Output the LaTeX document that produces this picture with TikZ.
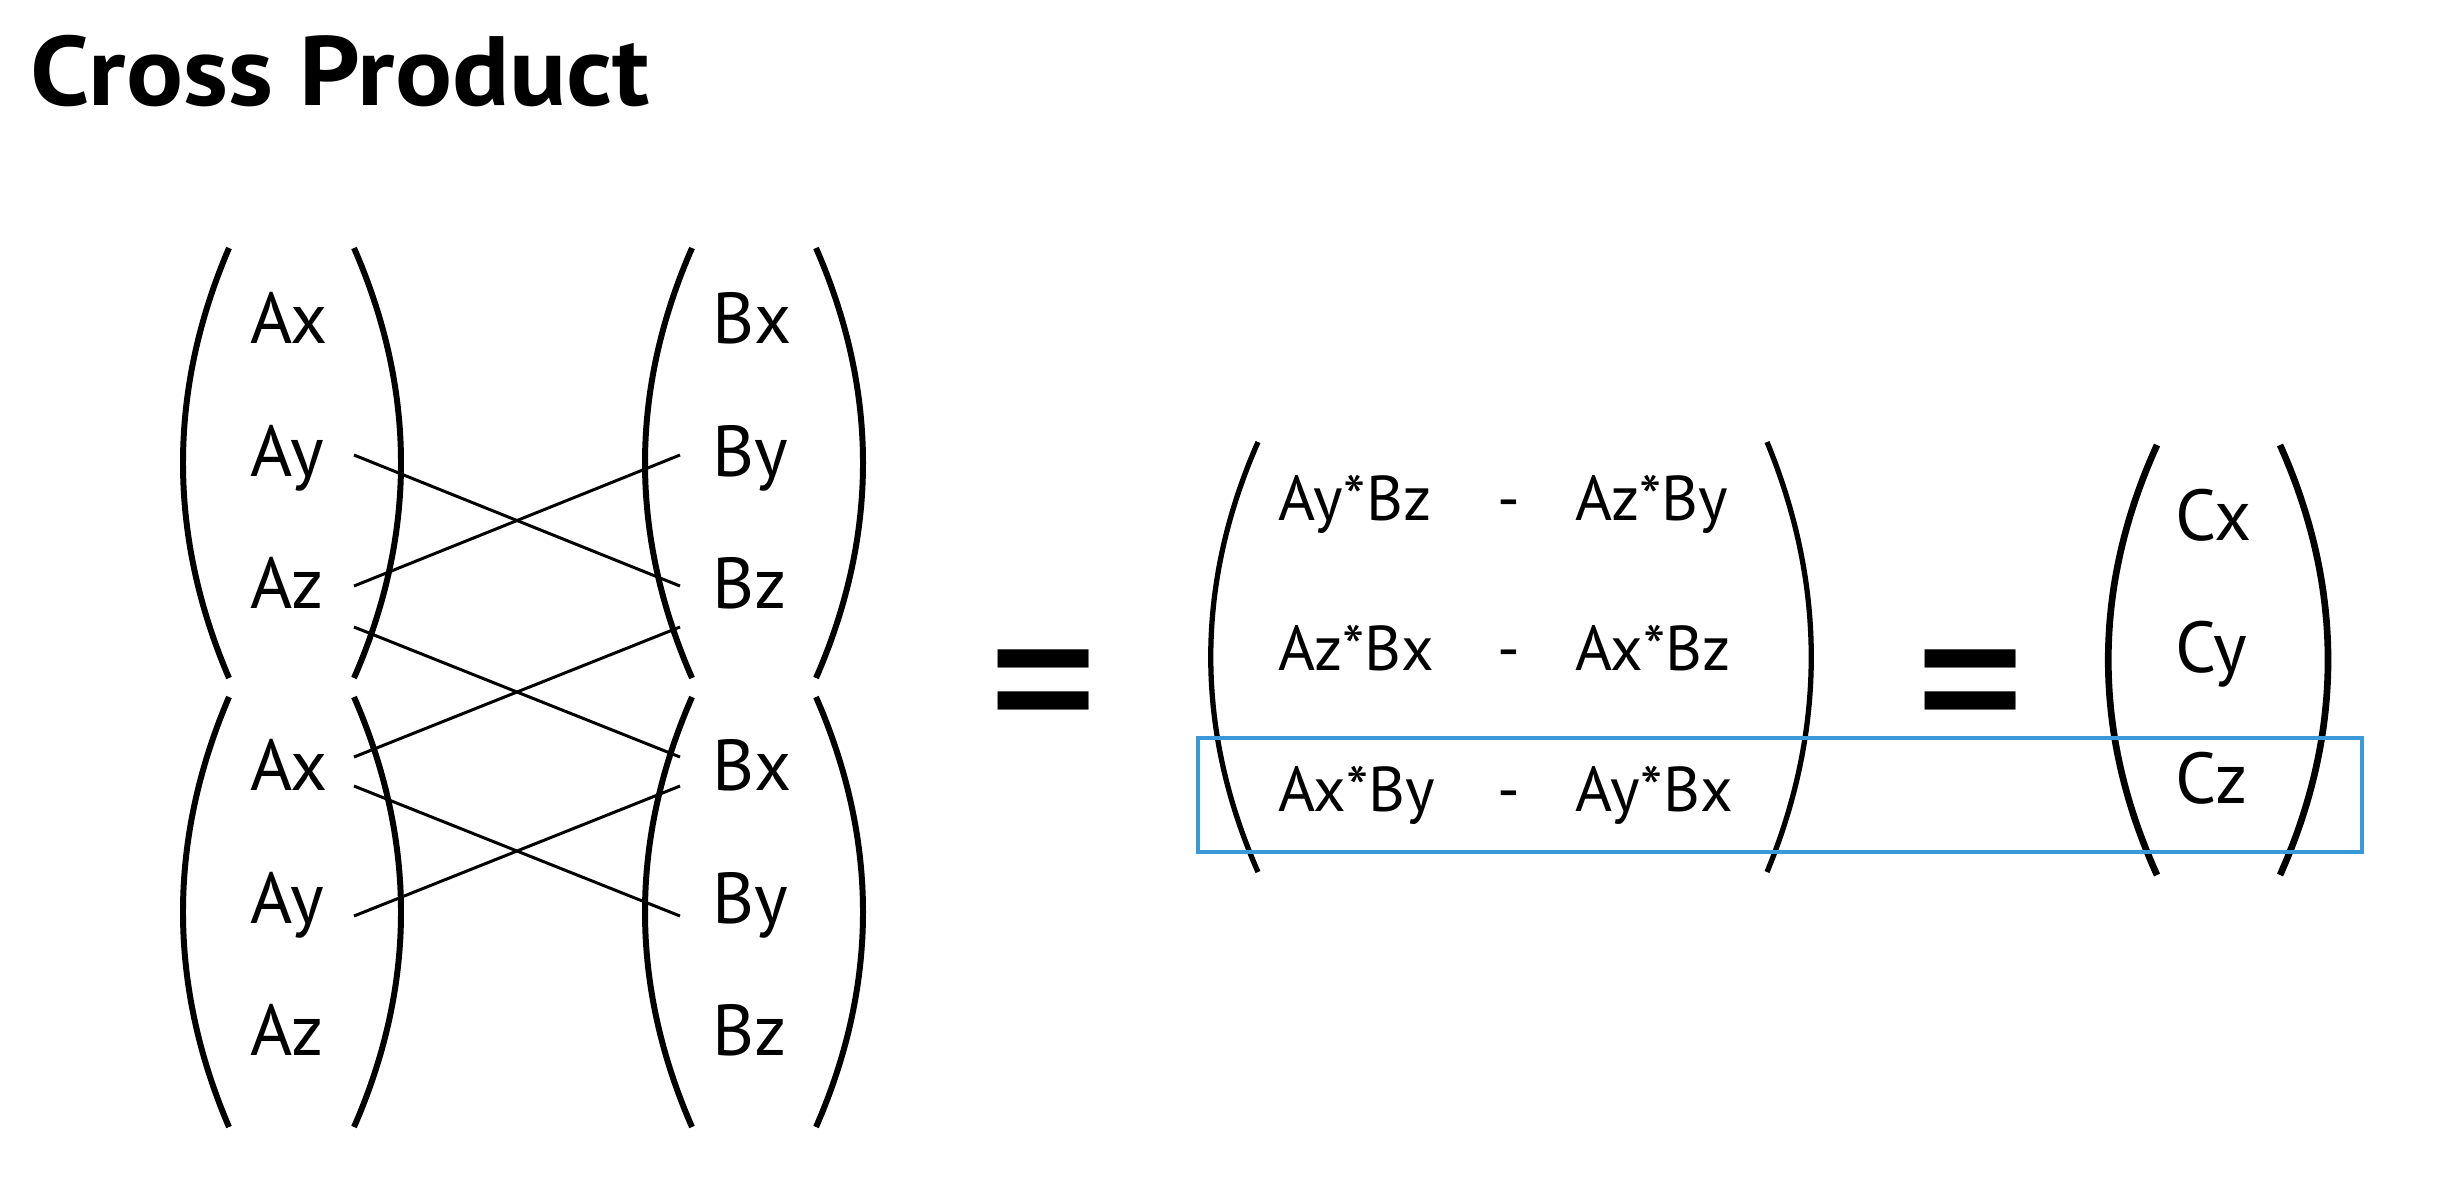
\documentclass[tikz,border=0pt]{standalone}
\usepackage{fontspec}
\setmainfont{PT Sans}
\newfontfamily\titlefont{PT Sans}[FakeStretch=1.08]
\usetikzlibrary{calc}
\definecolor{hlblue}{HTML}{3A9AD9}

\begin{document}
\begin{tikzpicture}[x=0.01cm, y=-0.01cm,
    lbl/.style={anchor=base west, inner sep=0pt, font=\fontsize{20.5}{24}\selectfont},
    prod/.style={anchor=base west, inner sep=0pt, font=\fontsize{18}{21}\selectfont},
    eqsign/.style={inner sep=0pt, font=\fontsize{61}{64}\selectfont},
    paren/.style={line width=1.7pt},
    thinparen/.style={line width=1.5pt},
    thickparen/.style={line width=1.9pt},
    link/.style={line width=0.85pt},
    hl/.style={draw=hlblue, line width=1.1pt},
]
  \useasboundingbox (0,0) rectangle (2440,1193);

  % === Title ===
  \node[anchor=base west, inner sep=0pt, font=\titlefont\fontsize{28}{30}\selectfont\bfseries] (title) at (30,105) {Cross Product};

  % === A and B columns (stacked twice) ===
  \foreach \top/\bot in {248/678, 697/1127}
    \foreach \x/\b in {229/183, 354/401, 692/645, 816/863}
      \draw[paren] (\x,\top) .. controls ({\x+4/3*(\b-\x)},{\top+(\bot-\top)/3}) and ({\x+4/3*(\b-\x)},{\bot-(\bot-\top)/3}) .. (\x,\bot);

  \node[lbl] (ax1) at (250,343) {Ax};
  \node[lbl] (ay1) at (250,476) {Ay};
  \node[lbl] (az1) at (250,608) {Az};
  \node[lbl] (ax2) at (250,790) {Ax};
  \node[lbl] (ay2) at (250,923) {Ay};
  \node[lbl] (az2) at (250,1055) {Az};

  \node[lbl] (bx1) at (712,343) {Bx};
  \node[lbl] (by1) at (712,476) {By};
  \node[lbl] (bz1) at (712,608) {Bz};
  \node[lbl] (bx2) at (712,790) {Bx};
  \node[lbl] (by2) at (712,923) {By};
  \node[lbl] (bz2) at (712,1055) {Bz};

  % crossing pairs
  \draw[link] ($(ay1.base west)+(104,-21)$) -- ($(bz1.base west)+(-32,-22)$);
  \draw[link] ($(az1.base west)+(104,-22)$) -- ($(by1.base west)+(-32,-21)$);
  \draw[link] ($(az1.base west)+(104,19)$) -- ($(bx2.base west)+(-32,-33)$);
  \draw[link] ($(bz1.base west)+(-32,19)$) -- ($(ax2.base west)+(104,-33)$);
  \draw[link] ($(ax2.base west)+(104,-4)$) -- ($(by2.base west)+(-32,-7)$);
  \draw[link] ($(ay2.base west)+(104,-7)$) -- ($(bx2.base west)+(-32,-4)$);

  % === First equals ===
  \node[eqsign] (eq1) at (1044,708) {\scalebox{1}[1.18]{=}};

  % === Component products ===
  \draw[thinparen] (1258,442) .. controls (1195,585) and (1195,729) .. (1258,872);
  \draw[thinparen] (1767,442) .. controls (1826,585) and (1826,729) .. (1767,872);

  \node[prod] (p1l) at (1278,520) {Ay*Bz};
  \node[prod] (p1m) at (1497,520) {-};
  \node[prod] (p1r) at (1575,520) {Az*By};
  \node[prod] (p2l) at (1278,670) {Az*Bx};
  \node[prod] (p2m) at (1497,670) {-};
  \node[prod] (p2r) at (1575,670) {Ax*Bz};
  \node[prod] (p3l) at (1278,811) {Ax*By};
  \node[prod] (p3m) at (1497,811) {-};
  \node[prod] (p3r) at (1575,811) {Ay*Bx};

  % === Second equals ===
  \node[eqsign] (eq2) at (1971,708) {\scalebox{1}[1.18]{=}};

  % === Result C ===
  \draw[thickparen] (2157,445) .. controls (2092,588) and (2092,732) .. (2157,875);
  \draw[thickparen] (2280,445) .. controls (2344,588) and (2344,732) .. (2280,875);

  \node[lbl] (cx) at (2175,540) {Cx};
  \node[lbl] (cy) at (2175,672) {Cy};
  \node[lbl] (cz) at (2175,803) {Cz};

  % highlighted z row
  \draw[hl] (1198,738) rectangle (2362,852);
\end{tikzpicture}
\end{document}
